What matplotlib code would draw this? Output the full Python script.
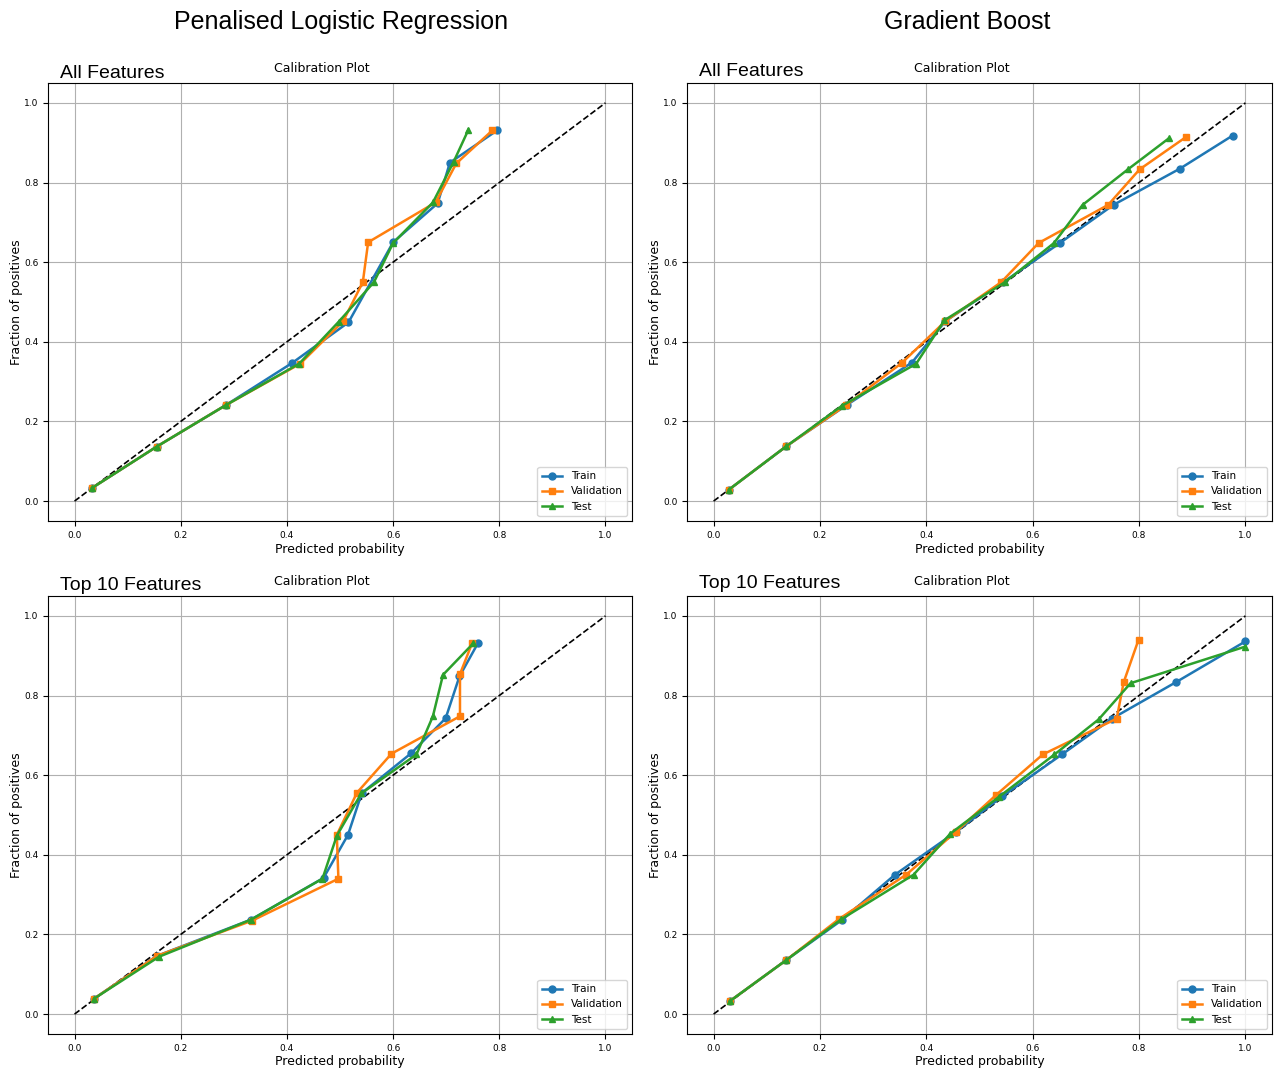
import matplotlib
matplotlib.use("Agg")
import matplotlib.pyplot as plt

# calibration curves, (mean predicted prob, fraction of positives)
# Penalised logistic regression - all features
lr_all_train_x = [0.033, 0.155, 0.285, 0.41, 0.516, 0.600, 0.684, 0.707, 0.796]
lr_all_train_y = [0.033, 0.137, 0.241, 0.347, 0.449, 0.650, 0.748, 0.850, 0.931]
lr_all_val_x = [0.033, 0.155, 0.285, 0.425, 0.506, 0.543, 0.553, 0.680, 0.719, 0.787]
lr_all_val_y = [0.033, 0.137, 0.241, 0.345, 0.452, 0.550, 0.650, 0.750, 0.848, 0.931]
lr_all_test_x = [0.033, 0.155, 0.285, 0.423, 0.498, 0.564, 0.600, 0.675, 0.714, 0.742]
lr_all_test_y = [0.033, 0.137, 0.241, 0.345, 0.451, 0.550, 0.648, 0.750, 0.852, 0.933]

# Gradient boost - all features
gb_all_train_x = [0.029, 0.137, 0.25, 0.373, 0.436, 0.545, 0.651, 0.752, 0.877, 0.976]
gb_all_train_y = [0.029, 0.138, 0.241, 0.348, 0.452, 0.550, 0.648, 0.744, 0.835, 0.918]
gb_all_val_x = [0.029, 0.137, 0.249, 0.354, 0.436, 0.541, 0.611, 0.742, 0.801, 0.889]
gb_all_val_y = [0.029, 0.138, 0.241, 0.347, 0.452, 0.550, 0.648, 0.744, 0.833, 0.915]
gb_all_test_x = [0.029, 0.137, 0.241, 0.381, 0.434, 0.548, 0.64, 0.694, 0.779, 0.856]
gb_all_test_y = [0.029, 0.138, 0.239, 0.345, 0.454, 0.550, 0.648, 0.744, 0.833, 0.911]

# Penalised logistic regression - top 10 features
lr_top_train_x = [0.037, 0.155, 0.332, 0.469, 0.515, 0.541, 0.634, 0.699, 0.725, 0.760]
lr_top_train_y = [0.039, 0.146, 0.237, 0.342, 0.450, 0.555, 0.655, 0.743, 0.848, 0.932]
lr_top_val_x = [0.037, 0.155, 0.335, 0.497, 0.494, 0.532, 0.597, 0.726, 0.726, 0.749]
lr_top_val_y = [0.039, 0.146, 0.235, 0.340, 0.450, 0.556, 0.654, 0.748, 0.854, 0.932]
lr_top_test_x = [0.037, 0.159, 0.332, 0.467, 0.494, 0.540, 0.644, 0.675, 0.694, 0.751]
lr_top_test_y = [0.039, 0.144, 0.237, 0.340, 0.448, 0.554, 0.652, 0.748, 0.852, 0.931]

# Gradient boost - top 10 features
gb_top_train_x = [0.030, 0.136, 0.242, 0.341, 0.455, 0.543, 0.655, 0.749, 0.870, 1.0]
gb_top_train_y = [0.032, 0.135, 0.237, 0.350, 0.457, 0.547, 0.652, 0.742, 0.834, 0.936]
gb_top_val_x = [0.030, 0.136, 0.236, 0.362, 0.455, 0.531, 0.619, 0.758, 0.771, 0.799]
gb_top_val_y = [0.032, 0.135, 0.239, 0.350, 0.457, 0.550, 0.652, 0.742, 0.833, 0.940]
gb_top_test_x = [0.030, 0.136, 0.240, 0.376, 0.445, 0.537, 0.641, 0.724, 0.784, 1.0]
gb_top_test_y = [0.032, 0.135, 0.238, 0.350, 0.453, 0.546, 0.652, 0.740, 0.831, 0.923]

panels = [
    [(lr_all_train_x, lr_all_train_y), (lr_all_val_x, lr_all_val_y), (lr_all_test_x, lr_all_test_y)],
    [(gb_all_train_x, gb_all_train_y), (gb_all_val_x, gb_all_val_y), (gb_all_test_x, gb_all_test_y)],
    [(lr_top_train_x, lr_top_train_y), (lr_top_val_x, lr_top_val_y), (lr_top_test_x, lr_top_test_y)],
    [(gb_top_train_x, gb_top_train_y), (gb_top_val_x, gb_top_val_y), (gb_top_test_x, gb_top_test_y)],
]
series_names = ["Train", "Validation", "Test"]
markers = ["o", "s", "^"]

fig = plt.figure(figsize=(12.74, 10.69), dpi=100)
W, H = 1274.0, 1069.0

# axes boxes in pixels: left, top, right, bottom
boxes = [(48, 83, 632, 521), (687, 83, 1272, 521),
         (48, 596, 632, 1034), (687, 596, 1272, 1034)]

for k in range(4):
    l, t, r, b = boxes[k]
    ax = fig.add_axes([l / W, 1 - b / H, (r - l) / W, (b - t) / H])
    ax.plot([0, 1], [0, 1], "k--", linewidth=1.2)
    for i in range(3):
        xs, ys = panels[k][i]
        ax.plot(xs, ys, marker=markers[i], markersize=5, linewidth=1.8, label=series_names[i])
    ax.grid(True)
    ax.set_title("Calibration Plot", fontsize=9, x=0.469, pad=8)
    ax.set_xlabel("Predicted probability", fontsize=9, labelpad=2)
    ax.set_ylabel("Fraction of positives", fontsize=9)
    ax.yaxis.set_label_coords(-0.043, 0.5)
    ax.tick_params(labelsize=6.5)
    ax.legend(loc="lower right", fontsize=7.5)

big = "Liberation Sans"
fig.text(341 / W, 1 - 22 / H, "Penalised Logistic Regression", ha="center", va="center",
         fontsize=18, family=big)
fig.text(967 / W, 1 - 22 / H, "Gradient Boost", ha="center", va="center", fontsize=18, family=big)
fig.text(60 / W, 1 - 73 / H, "All Features", ha="left", va="center", fontsize=14, family=big)
fig.text(699 / W, 1 - 71 / H, "All Features", ha="left", va="center", fontsize=14, family=big)
fig.text(60 / W, 1 - 585 / H, "Top 10 Features", ha="left", va="center", fontsize=14, family=big)
fig.text(699 / W, 1 - 583 / H, "Top 10 Features", ha="left", va="center", fontsize=14, family=big)

fig.savefig("out.png", dpi=100)
